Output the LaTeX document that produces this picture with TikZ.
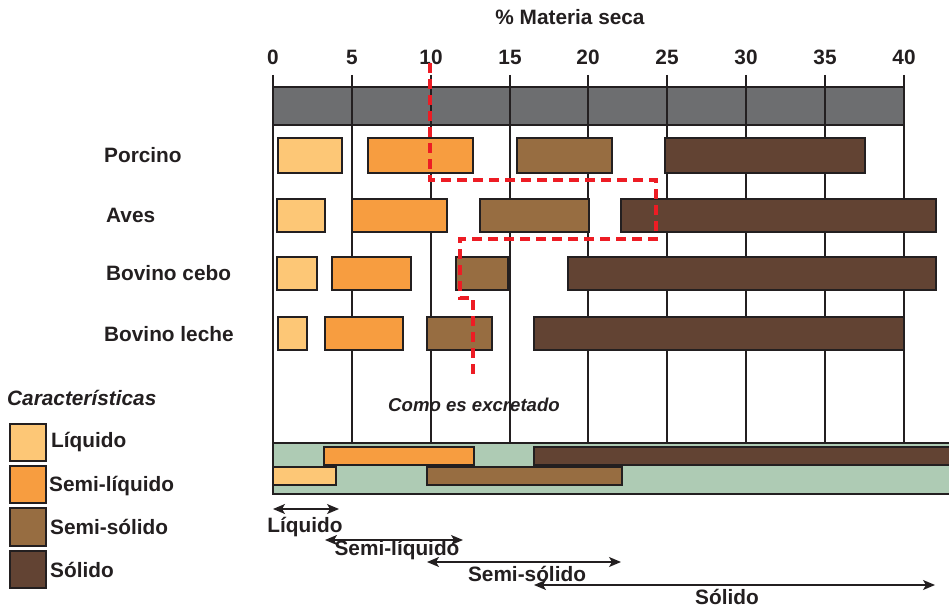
\documentclass[tikz,border=0pt]{standalone}
\usepackage{fontspec}
\setmainfont{Liberation Sans}
\usetikzlibrary{arrows.meta}
\definecolor{ink}{HTML}{231F20}
\definecolor{barg}{HTML}{6D6E70}
\definecolor{cliq}{HTML}{FDC776}
\definecolor{csliq}{HTML}{F79D40}
\definecolor{cssol}{HTML}{976D41}
\definecolor{csol}{HTML}{624333}
\definecolor{cgreen}{HTML}{AECBB4}
\definecolor{cred}{HTML}{ED1C24}
\tikzset{
  txt/.style={font=\fontsize{20.8}{24}\selectfont\bfseries, text=ink, inner sep=0pt},
  itxt/.style={font=\fontsize{20.8}{24}\selectfont\bfseries\itshape, text=ink, inner sep=0pt},
  grid/.style={draw=ink, line width=2.4pt},
  bx/.style={draw=ink, line width=1.3pt},
  liq/.style={bx, fill=cliq},
  sliq/.style={bx, fill=csliq},
  ssol/.style={bx, fill=cssol},
  sol/.style={bx, fill=csol},
  rng/.style={draw=ink, line width=1.3pt, {Stealth[length=12pt,width=10pt,inset=3pt]}-{Stealth[length=12pt,width=10pt,inset=3pt]}},
  reddash/.style={draw=cred, line width=3.8pt, dash pattern=on 10pt off 6pt}
}
\begin{document}
\begin{tikzpicture}[x=1pt,y=-1pt]
\useasboundingbox (0,0) rectangle (949,607);
% title and scale
\node[txt] (title) at (570,17) {\% Materia seca};
\foreach \v/\xx in {0/273,5/352,10/431,15/510,20/588,25/667,30/746,35/825,40/904} {
  \node[txt] (n\v) at (\xx,57) {\v};
}
% gray bar
\fill[barg] (273,87) rectangle (904,125);
% green band
\draw[fill=cgreen, draw=ink, line width=1.3pt] (273,443) rectangle (955,494);
% grid lines
\foreach \xx in {273,352,431,510,588,667,746,825,904} {
  \draw[grid] (\xx,75) -- (\xx,443);
}
\draw[draw=ink, line width=1.2pt] (273,87) -- (904,87) (273,125) -- (904,125);
% Porcino
\draw[liq] (278,138) rectangle (342,173);
\draw[sliq] (368,138) rectangle (473,173);
\draw[ssol] (517,138) rectangle (612,173);
\draw[sol] (665,138) rectangle (865,173);
% Aves
\draw[liq] (277,199) rectangle (325,232);
\draw[sliq] (352,199) rectangle (447,232);
\draw[ssol] (480,199) rectangle (589,232);
\draw[sol] (621,199) rectangle (936,232);
% Bovino cebo
\draw[liq] (277,257) rectangle (317,290);
\draw[sliq] (332,257) rectangle (411,290);
\draw[ssol] (456,257) rectangle (508,290);
\draw[sol] (568,257) rectangle (936,290);
% Bovino leche
\draw[liq] (278,317) rectangle (307,350);
\draw[sliq] (325,317) rectangle (403,350);
\draw[ssol] (427,317) rectangle (492,350);
\draw[sol] (534,317) rectangle (904,350);
% row labels
\node[txt, anchor=west] (porcino) at (104,155) {Porcino};
\node[txt, anchor=west] (aves) at (106,215) {Aves};
\node[txt, anchor=west] (cebo) at (106,273) {Bovino cebo};
\node[txt, anchor=west] (leche) at (104,334) {Bovino leche};
% red dashed path
\draw[reddash] (430,63) -- (430,180) -- (656,180) -- (656,239) -- (460,239) -- (460,298) -- (473,298) -- (473,375);
\node[itxt, font=\fontsize{18.6}{21}\selectfont\bfseries\itshape] (excr) at (474,405) {Como es excretado};
% band bars
\draw[sliq] (324,447) rectangle (474,465);
\draw[sol] (534,447) rectangle (955,465);
\draw[liq] (273,467) rectangle (336,485);
\draw[ssol] (427,467) rectangle (622,485);
% legend
\node[itxt, anchor=west] (carac) at (7,398) {Características};
\draw[liq] (10,424) rectangle (46,461);
\draw[sliq] (10,466) rectangle (46,503);
\draw[ssol] (10,508) rectangle (46,546);
\draw[sol] (10,551) rectangle (46,588);
\node[txt, anchor=west] (l1) at (51,442) {Líquido};
\node[txt, anchor=west] (l2) at (49,486) {Semi-líquido};
\node[txt, anchor=west] (l3) at (50,527) {Semi-sólido};
\node[txt, anchor=west] (l4) at (50,570) {Sólido};
% range arrows
\coordinate (a1) at (273,509); \coordinate (b1) at (339,509);
\coordinate (a2) at (325,540); \coordinate (b2) at (463,540);
\coordinate (a3) at (427,562); \coordinate (b3) at (621,562);
\coordinate (a4) at (534,585); \coordinate (b4) at (935,585);
\draw[rng] (a1) -- (b1);
\draw[rng] (a2) -- (b2);
\draw[rng] (a3) -- (b3);
\draw[rng] (a4) -- (b4);
\node[txt] (r1) at (305,527) {Líquido};
\node[txt] (r2) at (397,550) {Semi-líquido};
\node[txt] (r3) at (527,574) {Semi-sólido};
\node[txt] (r4) at (727,597) {Sólido};
\end{tikzpicture}
\end{document}
